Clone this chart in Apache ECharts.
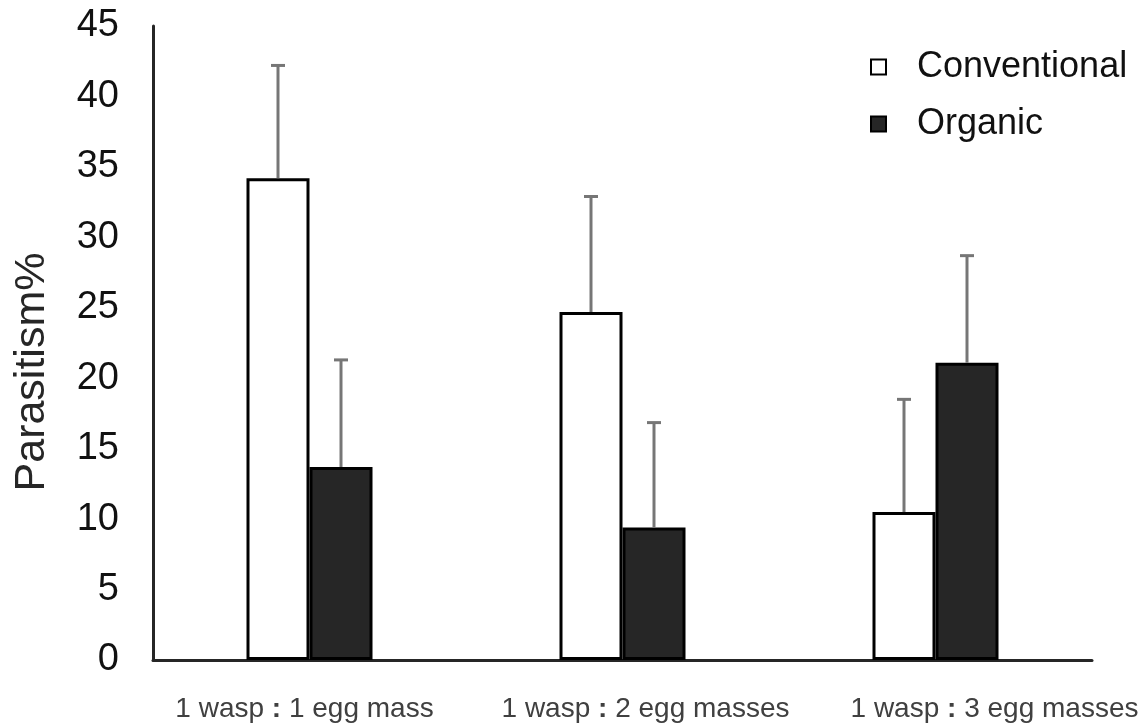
<!DOCTYPE html>
<html>
<head>
<meta charset="utf-8">
<script src="https://cdn.jsdelivr.net/npm/echarts@6/dist/echarts.min.js"></script>
<style>
html,body{margin:0;padding:0;background:#fff;}
#chart{width:1148px;height:726px;}
</style>
</head>
<body>
<div id="chart"></div>
<script>
var categories = ['1 wasp : 1 egg mass', '1 wasp : 2 egg masses', '1 wasp : 3 egg masses'];
var seriesNames = ['Conventional', 'Organic'];
var conventional = [34.2, 24.7, 10.5];
var organic = [13.7, 9.4, 21.1];
var conventionalErr = [8.0, 8.2, 8.0];
var organicErr = [7.6, 7.45, 7.6];
var yTicks = [0, 5, 10, 15, 20, 25, 30, 35, 40, 45];

var FONT = '"Liberation Sans", Arial, sans-serif';
var BAR_W = 63;
var labelShift = [-5, 23, 59];

function errSeries(name, vals, errs, offset) {
  return {
    type: 'custom',
    name: name + ' error',
    z: 5,
    silent: true,
    data: vals.map(function (v, i) { return [i, v, v + errs[i]]; }),
    renderItem: function (params, api) {
      var i = api.value(0);
      var base = api.coord([i, api.value(1)]);
      var top = api.coord([i, api.value(2)]);
      var x = base[0] + offset;
      var st = { stroke: '#767676', lineWidth: 3 };
      return {
        type: 'group',
        children: [
          { type: 'line', shape: { x1: x, y1: base[1], x2: x, y2: top[1] }, style: st },
          { type: 'line', shape: { x1: x - 7, y1: top[1], x2: x + 7, y2: top[1] }, style: st }
        ]
      };
    }
  };
}

var chart = echarts.init(document.getElementById('chart'));
chart.setOption({
  animation: false,
  backgroundColor: '#fff',
  textStyle: { fontFamily: FONT },
  grid: { left: 153, right: 56, top: 26, bottom: 66 },
  legend: {
    orient: 'vertical',
    left: 865,
    top: 44,
    itemWidth: 15,
    itemHeight: 15,
    itemGap: 21,
    icon: 'rect',
    data: seriesNames,
    textStyle: { fontSize: 36, color: '#111', fontFamily: FONT, padding: [0, 0, 0, 26] }
  },
  xAxis: {
    type: 'category',
    data: categories,
    axisLine: { lineStyle: { color: '#262626', width: 3 } },
    axisTick: { show: false },
    axisLabel: {
      margin: 35,
      interval: 0,
      formatter: function (val, idx) {
        var parts = val.split(':');
        var s = labelShift[idx] || 0;
        var pre = s > 0 ? '{s' + idx + '|}' : '';
        var post = s < 0 ? '{s' + idx + '|}' : '';
        return pre + '{a|' + parts[0] + '}{b|:}{a|' + parts[1] + '}' + post;
      },
      rich: {
        a: { fontSize: 28, color: '#404040', fontFamily: FONT },
        b: { fontSize: 28, color: '#404040', fontWeight: 'bold', fontFamily: FONT },
        s0: { width: Math.abs(labelShift[0]) * 2 },
        s1: { width: Math.abs(labelShift[1]) * 2 },
        s2: { width: Math.abs(labelShift[2]) * 2 }
      }
    }
  },
  yAxis: {
    type: 'value',
    min: yTicks[0],
    max: yTicks[yTicks.length - 1],
    interval: yTicks[1] - yTicks[0],
    name: 'Parasitism%',
    nameLocation: 'middle',
    nameGap: 99,
    nameRotate: 90,
    nameTextStyle: { fontSize: 43, color: '#262626', fontFamily: FONT, padding: [0, 58, 0, 0] },
    axisLine: { show: true, lineStyle: { color: '#262626', width: 3 } },
    axisTick: { show: false },
    splitLine: { show: false },
    axisLabel: { fontSize: 38, color: '#111', margin: 34, fontFamily: FONT }
  },
  series: [
    {
      type: 'bar',
      name: seriesNames[0],
      data: conventional,
      barWidth: BAR_W,
      barGap: '0%',
      itemStyle: { color: '#fff', borderColor: '#000', borderWidth: 3 }
    },
    {
      type: 'bar',
      name: seriesNames[1],
      data: organic,
      barWidth: BAR_W,
      barGap: '0%',
      itemStyle: { color: '#262626', borderColor: '#000', borderWidth: 3 }
    },
    errSeries(seriesNames[0], conventional, conventionalErr, -BAR_W / 2),
    errSeries(seriesNames[1], organic, organicErr, BAR_W / 2)
  ]
});
</script>
</body>
</html>
